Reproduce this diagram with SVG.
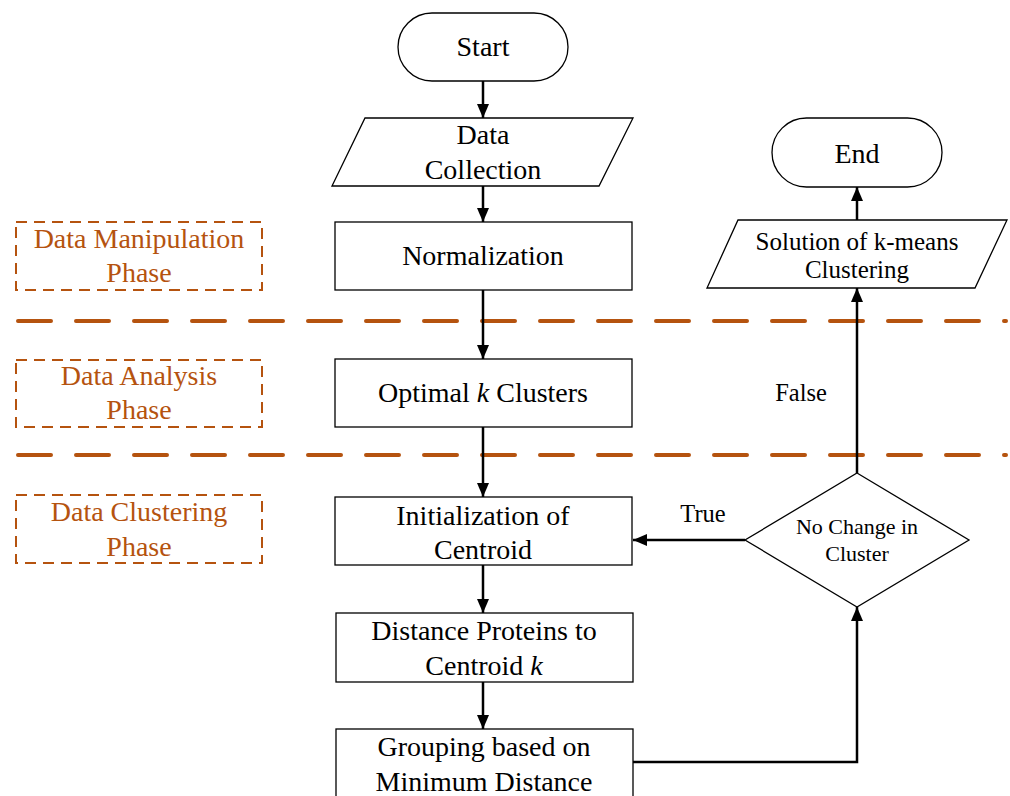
<svg xmlns="http://www.w3.org/2000/svg" width="1010" height="796" viewBox="0 0 1010 796">
<defs>
<marker id="ah" viewBox="0 0 14 12" refX="14" refY="6" markerWidth="14" markerHeight="12" markerUnits="userSpaceOnUse" orient="auto">
<path d="M0,0 L14,6 L0,12 Z" fill="#000"/>
</marker>
<style>
.n{fill:#fff;stroke:#000;stroke-width:1.3}
.t{font-family:"Liberation Serif","Times New Roman",serif;font-size:28px;fill:#000;text-anchor:middle}
.s{font-size:25px}
.d{font-size:22px}
.l{font-size:24.5px}
.ph{fill:none;stroke:#B5530F;stroke-width:2;stroke-dasharray:11 7}
.pt{font-family:"Liberation Serif","Times New Roman",serif;font-size:28px;fill:#B5530F;text-anchor:middle}
.sep{stroke:#B5530F;stroke-width:4;stroke-linecap:round;stroke-dasharray:33 25}
.c{fill:none;stroke:#000;stroke-width:2.5;marker-end:url(#ah)}
</style>
</defs>
<rect width="1010" height="796" fill="#fff"/>
<g id="separators">
<line class="sep" x1="18" y1="321" x2="1006" y2="321"/>
<line class="sep" x1="18" y1="455" x2="1006" y2="455"/>
</g>
<g id="phase-manipulation">
<rect class="ph" x="16" y="222" width="246" height="68"/>
<text class="pt" x="139" y="248">Data Manipulation</text>
<text class="pt" x="139" y="282">Phase</text>
</g>
<g id="phase-analysis">
<rect class="ph" x="16" y="360" width="246" height="67"/>
<text class="pt" x="139" y="385">Data Analysis</text>
<text class="pt" x="139" y="419">Phase</text>
</g>
<g id="phase-clustering">
<rect class="ph" x="16" y="495" width="246" height="68"/>
<text class="pt" x="139" y="521">Data Clustering</text>
<text class="pt" x="139" y="556">Phase</text>
</g>
<g id="connectors">
<line class="c" x1="483" y1="81" x2="483" y2="118"/>
<line class="c" x1="483" y1="186" x2="483" y2="222"/>
<line class="c" x1="483" y1="290" x2="483" y2="359"/>
<line class="c" x1="483" y1="427" x2="483" y2="497"/>
<line class="c" x1="483" y1="565" x2="483" y2="613"/>
<line class="c" x1="483" y1="682" x2="483" y2="729"/>
<polyline class="c" points="633,762 857,762 857,607"/>
<line class="c" x1="745" y1="540" x2="633" y2="540"/>
<line class="c" x1="857" y1="473" x2="857" y2="288"/>
<line class="c" x1="857" y1="220" x2="857" y2="187"/>
<text class="t l" x="703" y="522">True</text>
<text class="t l" x="801" y="401">False</text>
</g>
<g id="start">
<rect class="n" x="398" y="13" width="170" height="68" rx="34"/>
<text class="t" x="483" y="56">Start</text>
</g>
<g id="data-collection">
<polygon class="n" points="365,118 633,118 599,186 332,186"/>
<text class="t" x="483" y="144">Data</text>
<text class="t" x="483" y="179">Collection</text>
</g>
<g id="normalization">
<rect class="n" x="335" y="222" width="297" height="68"/>
<text class="t" x="483" y="265">Normalization</text>
</g>
<g id="optimal-k">
<rect class="n" x="335" y="359" width="297" height="68"/>
<text class="t" x="483" y="402">Optimal <tspan font-style="italic">k</tspan> Clusters</text>
</g>
<g id="init-centroid">
<rect class="n" x="335" y="497" width="297" height="68"/>
<text class="t" x="483" y="525">Initialization of</text>
<text class="t" x="483" y="559">Centroid</text>
</g>
<g id="distance">
<rect class="n" x="336" y="613" width="297" height="69"/>
<text class="t" x="484" y="640">Distance Proteins to</text>
<text class="t" x="484" y="675">Centroid <tspan font-style="italic">k</tspan></text>
</g>
<g id="grouping">
<rect class="n" x="336" y="729" width="297" height="70"/>
<text class="t" x="484" y="756">Grouping based on</text>
<text class="t" x="484" y="791">Minimum Distance</text>
</g>
<g id="decision">
<polygon class="n" points="857,473 969,540 857,607 745,540"/>
<text class="t d" x="857" y="534">No Change in</text>
<text class="t d" x="857" y="561">Cluster</text>
</g>
<g id="solution">
<polygon class="n" points="738,220 1007,220 975,288 707,288"/>
<text class="t s" x="857" y="250">Solution of k-means</text>
<text class="t s" x="857" y="278">Clustering</text>
</g>
<g id="end">
<rect class="n" x="772" y="118" width="170" height="69" rx="34.5"/>
<text class="t" x="857" y="163">End</text>
</g>
</svg>
